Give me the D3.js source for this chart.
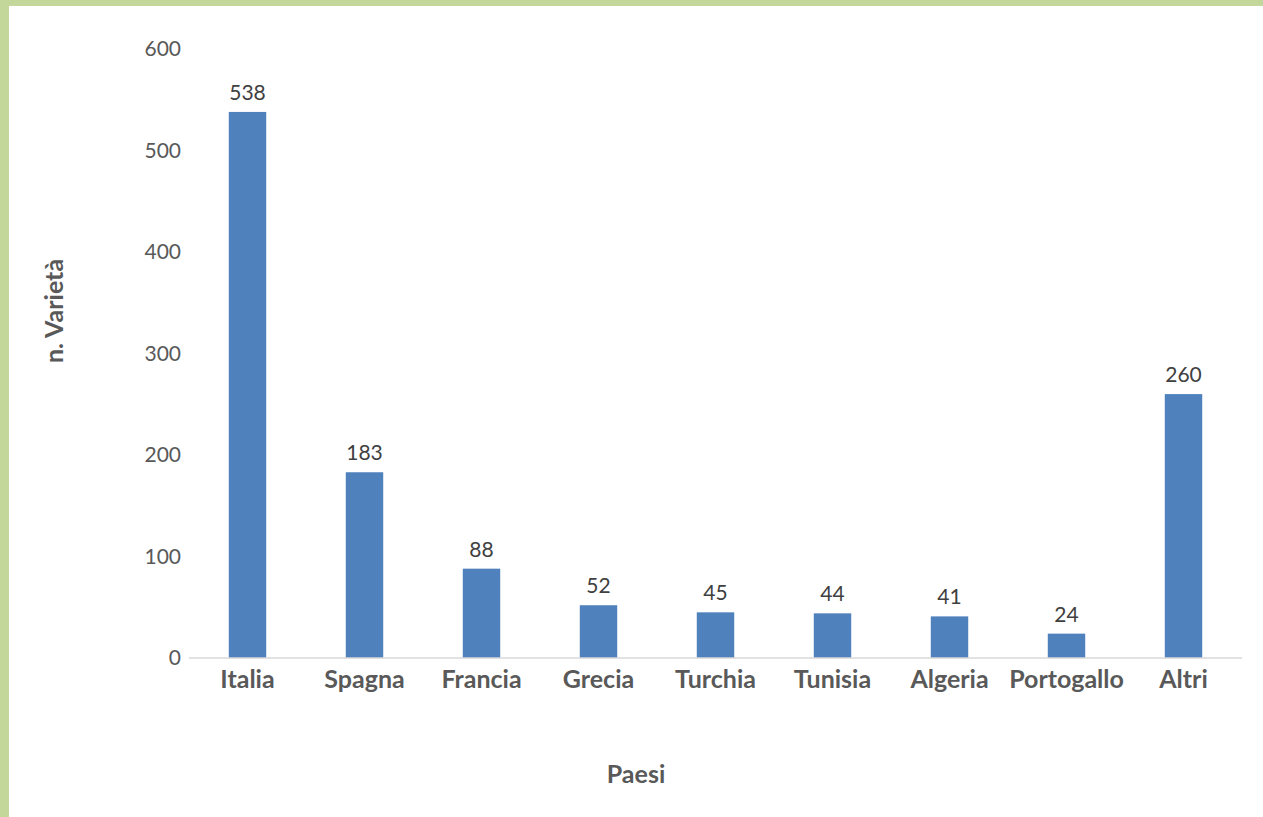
<!DOCTYPE html>
<html>
<head>
<meta charset="utf-8">
<script src="https://cdn.jsdelivr.net/npm/d3@7"></script>
<style>
  body { margin: 0; background: #fff; }
  svg { display: block; font-family: Lato, "Open Sans", sans-serif; }
</style>
</head>
<body>
<div id="chart"></div>
<script>
// Chart data
var paesi = ["Italia", "Spagna", "Francia", "Grecia", "Turchia", "Tunisia", "Algeria", "Portogallo", "Altri"];
var varieta = [538, 183, 88, 52, 45, 44, 41, 24, 260];
var yTicks = [0, 100, 200, 300, 400, 500, 600];

var width = 1263, height = 817;
var margins = { top: 49, bottom: 159, left: 189, right: 21 };

var svg = d3.select("#chart")
    .append("svg")
    .attr("width", width)
    .attr("height", height);

// green frame on top and left
svg.append("rect").attr("x", 0).attr("y", 0).attr("width", width).attr("height", 6).attr("fill", "#c4d79b");
svg.append("rect").attr("x", 0).attr("y", 0).attr("width", 9).attr("height", height).attr("fill", "#c4d79b");

var x = d3.scaleBand()
    .domain(paesi)
    .range([margins.left, width - margins.right])
    .paddingInner(0.68)
    .paddingOuter(0.34);

var y = d3.scaleLinear()
    .domain([0, 600])
    .range([height - margins.bottom, margins.top]);

// y tick labels (no line, no gridlines)
svg.append("g")
    .selectAll("text")
    .data(yTicks)
    .join("text")
    .attr("x", margins.left - 8)
    .attr("y", d => y(d))
    .attr("dy", "0.35em")
    .attr("text-anchor", "end")
    .attr("font-size", 21)
    .attr("fill", "#595959")
    .text(d => d);

// bars
svg.append("g")
    .selectAll("rect")
    .data(varieta)
    .join("rect")
    .attr("x", (d, i) => x(paesi[i]))
    .attr("y", d => y(d))
    .attr("width", x.bandwidth())
    .attr("height", d => y(0) - y(d))
    .attr("fill", "#4f81bd");

// x axis line
svg.append("line")
    .attr("x1", margins.left)
    .attr("x2", width - margins.right)
    .attr("y1", y(0))
    .attr("y2", y(0))
    .attr("stroke", "#d9d9d9")
    .attr("stroke-width", 1.5);

// value labels
svg.append("g")
    .selectAll("text")
    .data(varieta)
    .join("text")
    .attr("x", (d, i) => x(paesi[i]) + x.bandwidth() / 2)
    .attr("y", d => y(d) - 12)
    .attr("text-anchor", "middle")
    .attr("font-size", 21)
    .attr("fill", "#404040")
    .text(d => d);

// category labels
svg.append("g")
    .selectAll("text")
    .data(paesi)
    .join("text")
    .attr("x", d => x(d) + x.bandwidth() / 2)
    .attr("y", y(0) + 30)
    .attr("text-anchor", "middle")
    .attr("font-size", 25)
    .attr("font-weight", "bold")
    .attr("fill", "#595959")
    .text(d => d);

// axis titles
svg.append("text")
    .attr("transform", "translate(63,311) rotate(-90)")
    .attr("text-anchor", "middle")
    .attr("font-size", 25)
    .attr("font-weight", "bold")
    .attr("fill", "#595959")
    .text("n. Varietà");

svg.append("text")
    .attr("x", 636)
    .attr("y", 783)
    .attr("text-anchor", "middle")
    .attr("font-size", 25)
    .attr("font-weight", "bold")
    .attr("fill", "#595959")
    .text("Paesi");
</script>
</body>
</html>
